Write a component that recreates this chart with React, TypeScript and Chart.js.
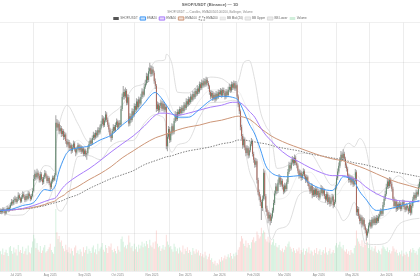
import React, { useEffect, useRef } from 'react';
import { Chart, registerables } from 'chart.js';

Chart.register(...registerables);

const TITLE = 'SHOP/USDT (Binance) — 1D';
const SUBTITLE = 'SHOP/USDT — Candles, EMA20/50/100/200, Bollinger, Volume';
const FIRST_DAY_UTC = Date.UTC(2025, 5, 17);
const DAY_COUNT = 380;
const MONTH_NAMES = ['Jan', 'Feb', 'Mar', 'Apr', 'May', 'Jun', 'Jul', 'Aug', 'Sep', 'Oct', 'Nov', 'Dec'];

const opens = [
  110.0, 110.5, 109.8, 111.2, 110.6, 109.4, 110.9, 111.8, 110.7, 112.1,
  113.4, 114.8, 113.9, 115.6, 116.2, 114.7, 115.9, 117.8, 116.4, 114.9,
  116.8, 118.3, 117.1, 115.6, 117.4, 116.2, 118.6, 117.3, 116.1, 117.5,
  119.8, 125.4, 127.9, 126.3, 128.4, 126.9, 124.8, 127.6, 125.3, 123.9,
  126.2, 128.1, 126.7, 124.5, 125.9, 123.4, 121.6, 124.2, 126.0, 125.1,
  127.3, 151.8, 149.6, 151.3, 147.8, 149.2, 146.5, 147.9, 145.1, 146.3,
  143.2, 141.6, 142.8, 139.9, 141.3, 138.7, 140.2, 142.1, 139.4, 137.8,
  139.6, 141.2, 138.9, 140.5, 138.2, 139.7, 137.1, 138.8, 136.9, 137.6,
  140.1, 141.8, 143.5, 142.1, 144.6, 146.2, 144.9, 147.1, 145.8, 148.3,
  147.2, 149.5, 151.2, 153.8, 150.6, 152.9, 155.7, 153.2, 150.8, 148.6,
  146.1, 144.6, 147.9, 149.8, 148.2, 150.7, 152.4, 149.6, 151.8, 150.9,
  158.3, 163.9, 166.2, 164.1, 166.8, 161.2, 163.7, 151.4, 154.8, 153.1,
  157.2, 155.4, 159.6, 157.9, 161.8, 159.1, 162.7, 160.8, 163.9, 166.4,
  164.9, 168.7, 170.2, 173.6, 171.8, 175.9, 177.4, 174.6, 176.8, 175.2,
  171.3, 169.1, 158.2, 160.3, 157.6, 159.8, 161.2, 158.4, 160.7, 157.9,
  159.3, 140.8, 145.2, 148.9, 143.6, 146.8, 150.1, 147.3, 152.6, 155.8,
  153.4, 156.9, 155.9, 158.2, 156.4, 158.8, 157.3, 160.2, 158.7, 161.9,
  160.4, 162.8, 161.4, 164.1, 162.6, 165.3, 163.8, 166.7, 165.2, 167.9,
  166.3, 169.8, 168.1, 170.6, 169.2, 171.3, 169.7, 172.0, 170.4, 168.9,
  166.2, 164.1, 165.8, 163.2, 164.9, 162.7, 165.4, 163.8, 166.1, 165.2,
  166.9, 164.6, 167.1, 165.8, 163.9, 166.4, 164.8, 167.3, 168.6, 166.9,
  169.8, 168.2, 170.3, 167.8, 169.4, 164.1, 160.3, 157.2, 149.8, 145.6,
  141.2, 143.9, 140.2, 137.6, 139.8, 136.4, 138.9, 141.7, 143.1, 137.2,
  134.5, 132.1, 133.8, 124.9, 119.3, 117.2, 114.6, 111.8, 116.2, 128.4,
  117.3, 111.6, 109.8, 106.9, 108.7, 105.8, 107.9, 110.6, 114.2, 118.6,
  121.9, 119.8, 123.7, 126.1, 122.9, 124.6, 121.8, 119.6, 122.4, 120.7,
  123.9, 128.7, 131.9, 130.4, 133.2, 134.6, 132.8, 135.4, 133.1, 131.7,
  129.3, 126.8, 128.4, 125.9, 127.6, 129.1, 126.7, 124.8, 126.2, 123.4,
  121.9, 119.7, 122.3, 117.8, 120.4, 118.2, 120.6, 117.9, 119.8, 116.7,
  118.9, 121.2, 118.6, 120.1, 117.4, 115.8, 118.3, 114.6, 116.9, 113.8,
  115.4, 117.2, 113.1, 114.6, 121.4, 125.8, 128.9, 131.6, 134.2, 136.8,
  135.1, 137.3, 134.9, 131.8, 130.2, 127.1, 124.9, 126.3, 123.8, 125.7,
  122.9, 124.6, 128.6, 109.8, 111.4, 108.2, 105.7, 107.4, 104.1, 106.3,
  103.2, 101.4, 98.9, 100.8, 103.6, 105.2, 103.1, 106.4, 104.7, 106.9,
  104.8, 107.3, 105.6, 107.9, 108.8, 110.4, 109.1, 113.2, 116.1, 118.4,
  121.6, 124.3, 122.1, 124.9, 123.2, 120.8, 116.2, 112.8, 114.9, 111.3,
  113.6, 112.1, 113.8, 111.4, 113.2, 114.6, 112.3, 111.0, 112.9, 111.7,
  110.3, 113.4, 109.6, 112.8, 115.8, 117.9, 116.4, 119.2, 118.1, 121.8,
];

const highs = [
  111.4, 111.3, 112.0, 111.9, 111.0, 111.6, 112.7, 112.4, 113.0, 114.3,
  115.9, 115.5, 116.7, 117.4, 116.9, 116.8, 119.1, 118.5, 117.0, 117.6,
  119.5, 119.0, 117.8, 118.2, 118.3, 119.7, 119.4, 118.0, 118.4, 120.9,
  127.2, 129.6, 128.8, 130.1, 129.3, 127.6, 128.7, 128.4, 126.2, 127.3,
  129.5, 128.9, 127.4, 126.8, 126.5, 124.1, 125.0, 126.9, 126.8, 128.2,
  155.2, 153.4, 152.8, 152.1, 150.6, 150.1, 149.0, 148.6, 147.4, 146.9,
  144.1, 143.9, 143.5, 142.4, 141.9, 141.3, 143.3, 142.8, 140.2, 140.5,
  142.3, 141.8, 141.4, 141.1, 140.6, 140.3, 139.6, 139.4, 138.5, 141.0,
  142.9, 144.6, 144.3, 145.7, 147.4, 147.0, 148.3, 148.0, 149.5, 149.4,
  150.8, 152.6, 155.3, 154.7, 154.1, 157.2, 156.6, 154.0, 151.7, 149.3,
  146.9, 148.8, 150.9, 150.6, 151.8, 153.6, 153.1, 152.7, 152.9, 159.6,
  165.4, 168.9, 167.3, 168.2, 167.5, 165.0, 164.6, 156.1, 155.9, 158.4,
  158.1, 160.8, 160.5, 163.1, 162.6, 163.9, 163.5, 165.2, 167.8, 167.3,
  170.1, 171.8, 175.1, 174.7, 177.6, 179.8, 178.6, 178.3, 177.9, 176.0,
  172.4, 169.8, 161.6, 161.1, 160.9, 162.5, 161.9, 161.8, 161.4, 160.4,
  160.1, 146.4, 150.1, 149.7, 147.9, 151.4, 150.9, 153.8, 157.1, 156.7,
  158.0, 157.8, 159.3, 159.0, 159.9, 159.6, 161.4, 161.0, 163.1, 162.8,
  164.0, 163.6, 165.3, 164.9, 166.6, 166.1, 167.9, 167.5, 169.2, 168.7,
  171.0, 170.6, 171.9, 171.4, 172.6, 172.1, 173.2, 172.8, 171.2, 169.5,
  166.9, 166.8, 166.5, 165.9, 165.6, 166.5, 166.2, 167.2, 167.0, 167.9,
  167.6, 168.2, 168.0, 166.5, 167.5, 167.2, 168.5, 169.9, 169.4, 171.0,
  170.6, 171.5, 171.1, 171.2, 170.1, 164.9, 161.1, 157.9, 150.7, 146.4,
  145.2, 144.7, 141.0, 141.1, 140.6, 140.0, 142.9, 144.5, 143.8, 138.0,
  135.4, 135.1, 134.5, 125.8, 120.4, 118.1, 115.5, 117.5, 130.1, 129.2,
  118.2, 112.7, 110.6, 109.9, 109.5, 109.1, 111.8, 115.5, 119.9, 123.4,
  122.8, 125.0, 127.6, 126.9, 125.8, 125.4, 122.7, 123.5, 123.2, 125.1,
  130.0, 133.4, 132.8, 134.6, 136.1, 135.5, 136.7, 136.2, 134.0, 132.5,
  130.1, 129.6, 129.1, 128.7, 130.3, 129.8, 127.5, 127.3, 126.9, 124.2,
  122.6, 123.4, 123.0, 121.5, 121.2, 121.8, 121.3, 120.9, 120.5, 120.0,
  122.4, 121.9, 121.2, 120.8, 118.2, 119.4, 119.0, 118.0, 117.6, 116.5,
  118.3, 117.9, 115.7, 122.6, 127.1, 130.2, 133.0, 135.6, 138.4, 137.7,
  139.2, 138.1, 135.7, 132.6, 131.0, 127.9, 127.4, 127.0, 126.8, 126.4,
  125.7, 130.0, 129.4, 112.6, 112.1, 109.0, 108.5, 108.1, 107.4, 107.0,
  104.0, 102.2, 101.9, 104.8, 106.3, 106.0, 107.5, 107.2, 108.0, 107.6,
  108.4, 108.1, 109.0, 110.1, 111.6, 111.2, 114.5, 117.4, 119.8, 123.0,
  125.7, 125.1, 126.2, 125.8, 124.0, 121.6, 117.0, 116.0, 115.7, 114.7,
  114.4, 114.9, 114.5, 114.3, 115.7, 115.4, 113.1, 114.0, 113.7, 112.5,
  114.6, 114.1, 113.9, 117.0, 119.1, 118.7, 120.4, 120.0, 123.0, 125.4,
];

const lows = [
  109.2, 109.0, 109.3, 109.8, 108.5, 108.9, 110.3, 110.0, 110.2, 111.6,
  112.9, 113.1, 113.4, 114.9, 114.0, 114.1, 115.3, 115.7, 114.2, 114.4,
  116.2, 116.5, 114.8, 115.0, 115.5, 115.8, 116.6, 115.2, 115.6, 117.0,
  119.2, 124.6, 125.1, 125.7, 125.8, 123.9, 124.1, 124.5, 122.8, 123.2,
  125.6, 125.9, 123.6, 123.7, 122.6, 119.8, 120.9, 123.5, 124.3, 124.6,
  126.8, 148.1, 148.7, 146.6, 146.9, 145.3, 145.6, 143.9, 144.2, 142.1,
  140.5, 140.8, 138.7, 139.1, 137.4, 137.9, 139.6, 138.5, 136.2, 137.1,
  138.9, 138.0, 138.2, 137.3, 137.5, 136.2, 136.4, 135.8, 134.6, 137.0,
  139.5, 141.1, 141.2, 141.5, 143.9, 143.8, 144.2, 144.9, 145.1, 146.3,
  146.6, 148.8, 150.5, 149.7, 149.9, 152.1, 152.3, 149.9, 147.5, 145.0,
  143.1, 143.9, 147.1, 147.3, 147.6, 149.9, 148.7, 148.9, 149.8, 150.2,
  157.5, 162.8, 162.9, 163.4, 160.1, 160.4, 150.2, 150.6, 151.9, 152.4,
  154.3, 154.8, 156.8, 157.2, 158.2, 158.5, 159.6, 160.1, 163.1, 163.8,
  164.2, 167.9, 169.5, 170.6, 171.0, 174.9, 173.5, 173.8, 174.1, 170.2,
  167.8, 157.0, 157.4, 156.5, 156.9, 158.9, 157.3, 157.6, 156.8, 157.1,
  139.5, 138.6, 144.5, 142.4, 142.9, 146.0, 146.4, 146.6, 151.9, 152.5,
  152.8, 154.9, 155.2, 155.5, 155.8, 156.4, 156.7, 157.8, 158.0, 159.5,
  159.7, 160.3, 160.8, 161.7, 162.0, 162.9, 163.1, 164.3, 164.6, 165.4,
  165.7, 167.2, 167.4, 168.3, 168.5, 168.8, 169.0, 169.5, 167.8, 165.1,
  163.0, 163.4, 162.1, 162.5, 161.6, 162.0, 162.9, 163.1, 164.3, 164.6,
  163.7, 164.0, 164.9, 162.8, 163.2, 163.9, 164.1, 166.5, 166.0, 166.2,
  167.3, 167.5, 166.9, 167.0, 163.2, 159.2, 156.0, 148.4, 144.2, 139.8,
  140.3, 139.1, 136.3, 136.9, 135.2, 135.6, 138.1, 140.9, 136.1, 133.2,
  130.8, 131.2, 123.5, 118.0, 115.6, 112.9, 106.4, 110.6, 115.4, 116.0,
  110.2, 108.3, 104.8, 105.8, 103.9, 104.9, 107.1, 109.8, 113.4, 117.8,
  118.6, 119.0, 122.9, 121.8, 122.1, 120.6, 118.4, 118.9, 119.6, 120.0,
  123.2, 127.9, 129.3, 129.7, 132.4, 131.7, 132.0, 132.0, 130.6, 128.2,
  125.7, 126.0, 124.8, 125.1, 126.9, 125.6, 123.7, 124.0, 122.3, 120.8,
  118.5, 119.0, 116.6, 117.1, 117.1, 117.5, 116.8, 117.1, 115.6, 116.0,
  118.2, 117.5, 117.8, 116.3, 114.6, 115.1, 113.4, 113.9, 112.6, 113.0,
  114.7, 111.9, 112.4, 114.0, 120.7, 125.1, 128.2, 130.9, 133.5, 134.0,
  134.4, 133.8, 130.7, 129.1, 126.0, 123.8, 124.1, 122.7, 123.1, 121.8,
  122.2, 123.9, 108.5, 108.2, 107.0, 104.4, 104.9, 102.8, 103.4, 101.9,
  100.1, 96.8, 98.0, 100.1, 102.9, 102.2, 102.5, 103.8, 104.0, 103.9,
  104.1, 104.7, 104.9, 107.1, 108.1, 108.2, 108.4, 112.5, 115.4, 117.7,
  120.9, 121.0, 121.4, 122.1, 119.7, 115.0, 111.6, 112.1, 110.1, 110.6,
  111.2, 111.4, 110.5, 110.7, 112.5, 111.4, 110.0, 110.3, 110.8, 109.1,
  109.6, 108.5, 108.9, 112.1, 115.1, 115.5, 115.7, 117.2, 117.4, 121.1,
];

const closes = [
  110.5, 109.8, 111.2, 110.6, 109.4, 110.9, 111.8, 110.7, 112.1, 113.4,
  114.8, 113.9, 115.6, 116.2, 114.7, 115.9, 117.8, 116.4, 114.9, 116.8,
  118.3, 117.1, 115.6, 117.4, 116.2, 118.6, 117.3, 116.1, 117.5, 119.8,
  125.4, 127.9, 126.3, 128.4, 126.9, 124.8, 127.6, 125.3, 123.9, 126.2,
  128.1, 126.7, 124.5, 125.9, 123.4, 121.6, 124.2, 126.0, 125.1, 127.3,
  151.8, 149.6, 151.3, 147.8, 149.2, 146.5, 147.9, 145.1, 146.3, 143.2,
  141.6, 142.8, 139.9, 141.3, 138.7, 140.2, 142.1, 139.4, 137.8, 139.6,
  141.2, 138.9, 140.5, 138.2, 139.7, 137.1, 138.8, 136.9, 137.6, 140.1,
  141.8, 143.5, 142.1, 144.6, 146.2, 144.9, 147.1, 145.8, 148.3, 147.2,
  149.5, 151.2, 153.8, 150.6, 152.9, 155.7, 153.2, 150.8, 148.6, 146.1,
  144.6, 147.9, 149.8, 148.2, 150.7, 152.4, 149.6, 151.8, 150.9, 158.3,
  163.9, 166.2, 164.1, 166.8, 161.2, 163.7, 151.4, 154.8, 153.1, 157.2,
  155.4, 159.6, 157.9, 161.8, 159.1, 162.7, 160.8, 163.9, 166.4, 164.9,
  168.7, 170.2, 173.6, 171.8, 175.9, 177.4, 174.6, 176.8, 175.2, 171.3,
  169.1, 158.2, 160.3, 157.6, 159.8, 161.2, 158.4, 160.7, 157.9, 159.3,
  140.8, 145.2, 148.9, 143.6, 146.8, 150.1, 147.3, 152.6, 155.8, 153.4,
  156.9, 155.9, 158.2, 156.4, 158.8, 157.3, 160.2, 158.7, 161.9, 160.4,
  162.8, 161.4, 164.1, 162.6, 165.3, 163.8, 166.7, 165.2, 167.9, 166.3,
  169.8, 168.1, 170.6, 169.2, 171.3, 169.7, 172.0, 170.4, 168.9, 166.2,
  164.1, 165.8, 163.2, 164.9, 162.7, 165.4, 163.8, 166.1, 165.2, 166.9,
  164.6, 167.1, 165.8, 163.9, 166.4, 164.8, 167.3, 168.6, 166.9, 169.8,
  168.2, 170.3, 167.8, 169.4, 164.1, 160.3, 157.2, 149.8, 145.6, 141.2,
  143.9, 140.2, 137.6, 139.8, 136.4, 138.9, 141.7, 143.1, 137.2, 134.5,
  132.1, 133.8, 124.9, 119.3, 117.2, 114.6, 111.8, 116.2, 128.4, 117.3,
  111.6, 109.8, 106.9, 108.7, 105.8, 107.9, 110.6, 114.2, 118.6, 121.9,
  119.8, 123.7, 126.1, 122.9, 124.6, 121.8, 119.6, 122.4, 120.7, 123.9,
  128.7, 131.9, 130.4, 133.2, 134.6, 132.8, 135.4, 133.1, 131.7, 129.3,
  126.8, 128.4, 125.9, 127.6, 129.1, 126.7, 124.8, 126.2, 123.4, 121.9,
  119.7, 122.3, 117.8, 120.4, 118.2, 120.6, 117.9, 119.8, 116.7, 118.9,
  121.2, 118.6, 120.1, 117.4, 115.8, 118.3, 114.6, 116.9, 113.8, 115.4,
  117.2, 113.1, 114.6, 121.4, 125.8, 128.9, 131.6, 134.2, 136.8, 135.1,
  137.3, 134.9, 131.8, 130.2, 127.1, 124.9, 126.3, 123.8, 125.7, 122.9,
  124.6, 128.6, 109.8, 111.4, 108.2, 105.7, 107.4, 104.1, 106.3, 103.2,
  101.4, 98.9, 100.8, 103.6, 105.2, 103.1, 106.4, 104.7, 106.9, 104.8,
  107.3, 105.6, 107.9, 108.8, 110.4, 109.1, 113.2, 116.1, 118.4, 121.6,
  124.3, 122.1, 124.9, 123.2, 120.8, 116.2, 112.8, 114.9, 111.3, 113.6,
  112.1, 113.8, 111.4, 113.2, 114.6, 112.3, 111.0, 112.9, 111.7, 110.3,
  113.4, 109.6, 112.8, 115.8, 117.9, 116.4, 119.2, 118.1, 121.8, 124.1,
];

const volumes = [
  48, 41, 55, 39, 46, 52, 44, 37, 58, 61, 49, 42, 57, 45, 53, 38, 63, 47, 51, 44,
  59, 42, 48, 55, 40, 62, 46, 43, 57, 72, 88, 79, 56, 68, 52, 47, 61, 44, 50, 57,
  63, 45, 49, 53, 58, 66, 51, 46, 42, 59, 150, 94, 78, 85, 70, 74, 61, 55, 48, 64,
  52, 46, 58, 43, 55, 49, 38, 57, 62, 44, 50, 41, 53, 47, 36, 58, 45, 51, 60, 42,
  54, 49, 44, 57, 62, 45, 53, 41, 66, 48, 55, 59, 68, 52, 47, 63, 56, 44, 61, 58,
  67, 51, 46, 54, 49, 43, 60, 52, 47, 78, 84, 71, 58, 62, 55, 64, 86, 69, 57, 61,
  48, 66, 53, 59, 47, 64, 55, 62, 71, 58, 67, 60, 73, 65, 56, 76, 62, 58, 69, 54,
  72, 98, 66, 58, 61, 49, 55, 63, 52, 59, 88, 72, 64, 58, 61, 53, 47, 66, 59, 48,
  55, 43, 57, 50, 46, 62, 41, 54, 49, 58, 44, 51, 47, 39, 56, 48, 42, 53, 45, 50,
  38, 44, 36, 41, 33, 47, 38, 29, 35, 42, 27, 31, 22, 18, 25, 14, 20, 16, 28, 23,
  34, 26, 31, 38, 29, 35, 41, 33, 44, 37, 30, 42, 36, 45, 39, 52, 58, 72, 85, 79,
  66, 61, 74, 57, 68, 63, 55, 70, 76, 82, 69, 73, 96, 88, 79, 84, 105, 91, 98, 94,
  77, 72, 83, 69, 75, 64, 70, 78, 62, 68, 59, 57, 63, 51, 48, 55, 46, 52, 61, 58,
  66, 72, 59, 54, 47, 56, 50, 44, 53, 48, 57, 42, 51, 46, 55, 40, 49, 54, 45, 58,
  43, 50, 47, 38, 52, 44, 56, 41, 48, 53, 39, 47, 51, 43, 58, 45, 40, 49, 55, 42,
  46, 51, 44, 62, 68, 57, 64, 71, 59, 55, 63, 50, 47, 53, 42, 48, 39, 51, 45, 43,
  56, 62, 98, 79, 72, 66, 61, 75, 58, 69, 63, 77, 70, 56, 64, 52, 59, 48, 55, 61,
  47, 44, 52, 48, 41, 55, 62, 58, 53, 49, 57, 46, 51, 43, 48, 60, 55, 47, 52, 44,
  38, 46, 41, 50, 36, 43, 39, 47, 42, 35, 49, 53, 45, 56, 51, 44, 48, 40, 54, 58,
];

// day indices (counted from the first candle) at which the EMA lines were read
const lineDays = [
  0, 10, 20, 30, 40, 45, 50, 52, 55, 58, 60, 70, 80, 90, 100, 110, 120, 130, 140, 145,
  150, 155, 160, 170, 180, 190, 200, 210, 215, 220, 225, 230, 235, 240, 245, 250, 260, 270, 280, 290,
  300, 305, 310, 315, 320, 325, 330, 340, 350, 360, 370, 379,
];

const ema20 = [
  110.7, 111.2, 113.0, 114.4, 120.5, 120.0, 122.8, 127.4, 132.1, 135.8, 137.7, 140.0, 140.9, 143.7, 146.0, 150.7, 154.9, 160.9, 166.0, 163.7,
  160.0, 156.3, 154.4, 154.4, 158.1, 162.3, 164.2, 163.7, 162.3, 157.2, 151.2, 146.5, 139.5, 131.6, 128.4, 127.0, 126.5, 127.0, 123.3, 120.9,
  120.0, 122.8, 126.5, 126.0, 124.2, 119.5, 116.3, 110.7, 111.2, 112.6, 114.0, 115.3,
];

const ema50 = [
  110.7, 110.9, 111.6, 113.0, 114.9, 115.8, 116.7, 118.1, 120.5, 122.3, 123.3, 127.0, 130.2, 134.0, 138.1, 141.9, 145.6, 150.2, 155.3, 156.3,
  156.3, 155.8, 155.3, 156.3, 157.7, 159.1, 160.0, 161.4, 161.4, 160.0, 157.2, 154.4, 149.8, 146.0, 143.3, 140.5, 136.3, 133.5, 130.7, 128.4,
  127.0, 127.0, 127.0, 126.5, 125.6, 124.2, 121.9, 118.6, 116.3, 115.3, 114.9, 114.9,
];

const ema100 = [
  110.7, 110.9, 111.4, 112.1, 113.5, 114.4, 115.3, 116.3, 117.2, 118.1, 119.1, 121.9, 125.1, 127.9, 131.2, 135.3, 138.6, 141.9, 144.7, 145.6,
  146.5, 147.4, 148.4, 149.8, 150.7, 152.1, 153.0, 154.4, 154.9, 154.4, 153.5, 151.6, 149.3, 147.4, 145.6, 144.2, 141.9, 140.0, 138.1, 136.3,
  134.9, 134.4, 134.0, 133.0, 132.1, 131.2, 130.2, 127.9, 125.6, 123.7, 122.3, 120.9,
];

const ema200 = [
  110.7, 110.9, 111.4, 111.9, 113.0, 113.7, 114.4, 114.7, 115.1, 115.8, 116.3, 118.1, 120.9, 123.3, 125.6, 127.4, 129.3, 132.1, 134.0, 134.9,
  135.8, 136.3, 137.2, 138.6, 139.5, 140.5, 141.9, 142.8, 143.7, 143.7, 143.3, 142.8, 142.3, 141.9, 141.2, 140.5, 139.5, 138.6, 137.2, 136.3,
  135.3, 134.9, 134.4, 133.7, 133.0, 132.6, 132.1, 130.7, 129.3, 128.4, 127.4, 126.5,
];

// day indices at which the Bollinger lines were read
const bandDays = [
  0, 10, 20, 30, 40, 45, 49, 50, 52, 55, 58, 60, 70, 80, 90, 100, 110, 120, 130, 140,
  145, 149, 150, 155, 160, 170, 180, 190, 200, 210, 215, 220, 225, 230, 235, 240, 245, 250, 260, 270,
  280, 290, 300, 305, 310, 315, 320, 325, 330, 340, 350, 360, 370, 379,
];

const bbMid = [
  110.5, 111.4, 113.8, 117.1, 122.3, 124.2, 125.6, 127.1, 129.4, 132.6, 135.8, 137.2, 143.6, 139.6, 142.4, 148.3, 151.6, 155.9, 161.0, 168.1,
  167.9, 166.9, 165.5, 158.8, 153.7, 154.6, 162.2, 167.2, 167.0, 165.9, 166.4, 161.9, 155.2, 147.6, 136.5, 128.8, 121.1, 116.0, 117.9, 127.7,
  128.6, 122.4, 118.1, 118.3, 122.3, 125.3, 127.6, 125.5, 117.9, 106.4, 108.9, 115.4, 114.8, 114.6,
];

const bbUpper = [
  110.5, 114.4, 119.0, 121.7, 131.7, 131.2, 129.0, 139.0, 147.8, 154.8, 158.9, 160.0, 151.3, 142.8, 150.3, 155.7, 159.9, 168.2, 170.5, 180.6,
  180.9, 181.5, 183.9, 179.6, 166.1, 165.8, 170.0, 173.2, 172.5, 169.5, 171.1, 180.0, 181.0, 172.0, 157.3, 150.3, 145.4, 130.4, 131.9, 137.5,
  137.4, 130.0, 122.5, 125.9, 138.7, 142.2, 140.6, 144.4, 140.7, 118.1, 122.0, 126.9, 123.3, 122.2,
];

const bbLower = [
  110.5, 108.4, 108.6, 112.5, 112.9, 117.2, 122.2, 115.2, 111.0, 110.4, 112.6, 114.4, 135.9, 136.4, 134.5, 140.9, 143.2, 143.5, 151.5, 155.6,
  154.9, 152.3, 147.1, 138.0, 141.3, 143.3, 154.4, 161.2, 161.4, 162.3, 161.7, 143.8, 129.4, 123.2, 115.6, 107.3, 96.9, 101.6, 103.9, 117.9,
  119.8, 114.8, 113.7, 110.7, 105.9, 108.4, 114.5, 106.6, 95.1, 94.7, 95.8, 103.9, 106.3, 107.0,
];

const UP = 'rgb(78,128,94)';
const DOWN = 'rgb(170,86,72)';
const VOL_UP = 'rgba(70,190,110,0.22)';
const VOL_DOWN = 'rgba(235,95,85,0.22)';

function buildDates(): string[] {
  const out: string[] = [];
  for (let i = 0; i < DAY_COUNT; i++) {
    out.push(new Date(FIRST_DAY_UTC + i * 86400000).toISOString().slice(0, 10));
  }
  return out;
}

const legendTrim = {
  id: 'legendTrim',
  beforeLayout(chart: any) {
    const lg = chart.legend;
    if (lg && !lg.__trimmed) {
      const orig = lg.fit.bind(lg);
      lg.fit = function () {
        orig();
        this.height = Math.max(0, this.height - 7.4);
      };
      lg.__trimmed = true;
    }
  },
};

export default function App() {
  const ref = useRef<HTMLCanvasElement | null>(null);

  useEffect(() => {
    if (!ref.current) return;
    const dates = buildDates();
    const monthStarts: number[] = [];
    dates.forEach((d, i) => {
      if (d.endsWith('-01')) monthStarts.push(i);
    });
    const gridIdx = new Set<number>();
    for (let m = 0; m + 1 < monthStarts.length; m++) {
      gridIdx.add(Math.round((monthStarts[m] + monthStarts[m + 1] + 1) / 2));
    }
    const isUp = closes.map((c, i) => c >= opens[i]);
    const atDays = (days: number[], vals: number[]) => vals.map((v, k) => ({ x: dates[days[k]], y: v }));

    const lineBase = {
      type: 'line' as const, pointRadius: 0, pointHoverRadius: 0, fill: false,
      cubicInterpolationMode: 'monotone', yAxisID: 'y',
    };

    const chart = new Chart(ref.current, {
      type: 'bar',
      data: {
        labels: dates,
        datasets: [
          {
            type: 'bar', label: 'SHOP/USDT', yAxisID: 'y', order: 2, grouped: false,
            data: opens.map((o, i) => [o, closes[i]]) as any,
            backgroundColor: isUp.map((u) => (u ? UP : DOWN)),
            borderWidth: 0, barPercentage: 0.7, categoryPercentage: 1,
          },
          { ...lineBase, label: 'EMA20', data: atDays(lineDays, ema20), borderColor: 'rgb(66,153,245)', backgroundColor: 'rgba(66,153,245,0.3)', borderWidth: 1, order: 0 },
          { ...lineBase, label: 'EMA50', data: atDays(lineDays, ema50), borderColor: 'rgb(168,124,250)', backgroundColor: 'rgba(168,124,250,0.3)', borderWidth: 1, order: 0 },
          { ...lineBase, label: 'EMA100', data: atDays(lineDays, ema100), borderColor: 'rgb(205,150,120)', backgroundColor: 'rgba(205,150,120,0.3)', borderWidth: 1, order: 0 },
          { ...lineBase, label: 'EMA200', data: atDays(lineDays, ema200), borderColor: 'rgb(95,95,95)', backgroundColor: 'rgba(255,255,255,1)', borderWidth: 0.8, borderDash: [1.5, 1.3], order: 0 },
          { ...lineBase, label: 'BB Mid (20)', data: atDays(bandDays, bbMid), borderColor: 'rgba(215,215,215,0.5)', backgroundColor: 'rgba(215,215,215,0.5)', borderWidth: 0.8, order: 4 },
          { ...lineBase, label: 'BB Upper', data: atDays(bandDays, bbUpper), borderColor: 'rgb(215,215,215)', backgroundColor: 'rgba(215,215,215,0.5)', borderWidth: 0.8, order: 4 },
          { ...lineBase, label: 'BB Lower', data: atDays(bandDays, bbLower), borderColor: 'rgb(215,215,215)', backgroundColor: 'rgba(215,215,215,0.5)', borderWidth: 0.8, order: 4 },
          {
            type: 'bar', label: 'Volume', yAxisID: 'yv', order: 6, grouped: false,
            data: volumes,
            backgroundColor: isUp.map((u) => (u ? VOL_UP : VOL_DOWN)),
            borderWidth: 0, barPercentage: 0.9, categoryPercentage: 1,
          },
          {
            type: 'bar', label: 'wick', yAxisID: 'y', order: 3, grouped: false,
            data: lows.map((l, i) => [l, highs[i]]) as any,
            backgroundColor: 'rgba(150,150,150,0.8)',
            borderWidth: 0, barThickness: 0.45,
          },
        ] as any,
      },
      options: {
        responsive: false,
        animation: false,
        devicePixelRatio: 1,
        events: [],
        layout: { padding: { left: 0, right: 0, top: 0, bottom: 1.2 } },
        scales: {
          x: {
            type: 'category',
            offset: true,
            border: { display: false },
            grid: {
              offset: true,
              drawTicks: false,
              lineWidth: 1,
              color: (ctx: any) => (gridIdx.has(ctx.index) ? 'rgba(0,0,0,0.07)' : 'rgba(0,0,0,0)'),
            },
            ticks: {
              autoSkip: false,
              maxRotation: 0,
              minRotation: 0,
              padding: 2,
              color: '#888',
              font: { size: 3 },
              callback: (_v: any, i: number) => {
                const d = dates[i];
                if (!d || !d.endsWith('-01')) return '';
                return MONTH_NAMES[Number(d.slice(5, 7)) - 1] + ' ' + d.slice(0, 4);
              },
            },
            afterFit: (scale: any) => {
              scale.paddingLeft = 0;
              scale.paddingRight = 0;
            },
          },
          y: {
            type: 'linear',
            position: 'left',
            min: 82.2,
            max: 198.7,
            border: { display: false },
            grid: { drawTicks: false, color: 'rgba(0,0,0,0.06)', lineWidth: 1 },
            ticks: { display: false, stepSize: 20 },
          },
          yv: {
            type: 'linear',
            display: false,
            min: 0,
            max: 600,
          },
        },
        plugins: {
          title: {
            display: true,
            text: TITLE,
            color: '#666',
            font: { size: 4.2, weight: 'bold' },
            padding: { top: 2.8, bottom: 1 },
          },
          subtitle: {
            display: true,
            text: SUBTITLE,
            color: '#888',
            font: { size: 3 },
            padding: { top: 1.66, bottom: 0.5 },
          },
          legend: {
            display: true,
            labels: {
              boxWidth: 5.5,
              boxHeight: 3.2,
              padding: 2.3,
              color: '#666',
              font: { size: 3 },
              generateLabels: (ch: any) => {
                const items = (Chart.defaults.plugins.legend.labels as any).generateLabels(ch);
                return items
                  .filter((it: any) => it.datasetIndex !== 9)
                  .sort((a: any, b: any) => a.datasetIndex - b.datasetIndex)
                  .map((it: any) => {
                    if (it.datasetIndex === 0) {
                      it.fillStyle = '#555';
                      it.strokeStyle = '#555';
                      it.lineWidth = 0;
                    }
                    if (it.datasetIndex === 8) {
                      it.fillStyle = 'rgba(70,190,110,0.25)';
                      it.strokeStyle = 'rgba(70,190,110,0.25)';
                      it.lineWidth = 0;
                    }
                    return it;
                  });
              },
            },
          },
          tooltip: { enabled: false },
        },
      } as any,
      plugins: [legendTrim],
    });
    return () => chart.destroy();
  }, []);

  return (
    <div style={{ position: 'fixed', left: 0, top: 0, width: 420, height: 280, overflow: 'hidden', background: '#fff' }}>
      <canvas ref={ref} width={420} height={280} style={{ display: 'block', width: 420, height: 280 }} />
    </div>
  );
}
